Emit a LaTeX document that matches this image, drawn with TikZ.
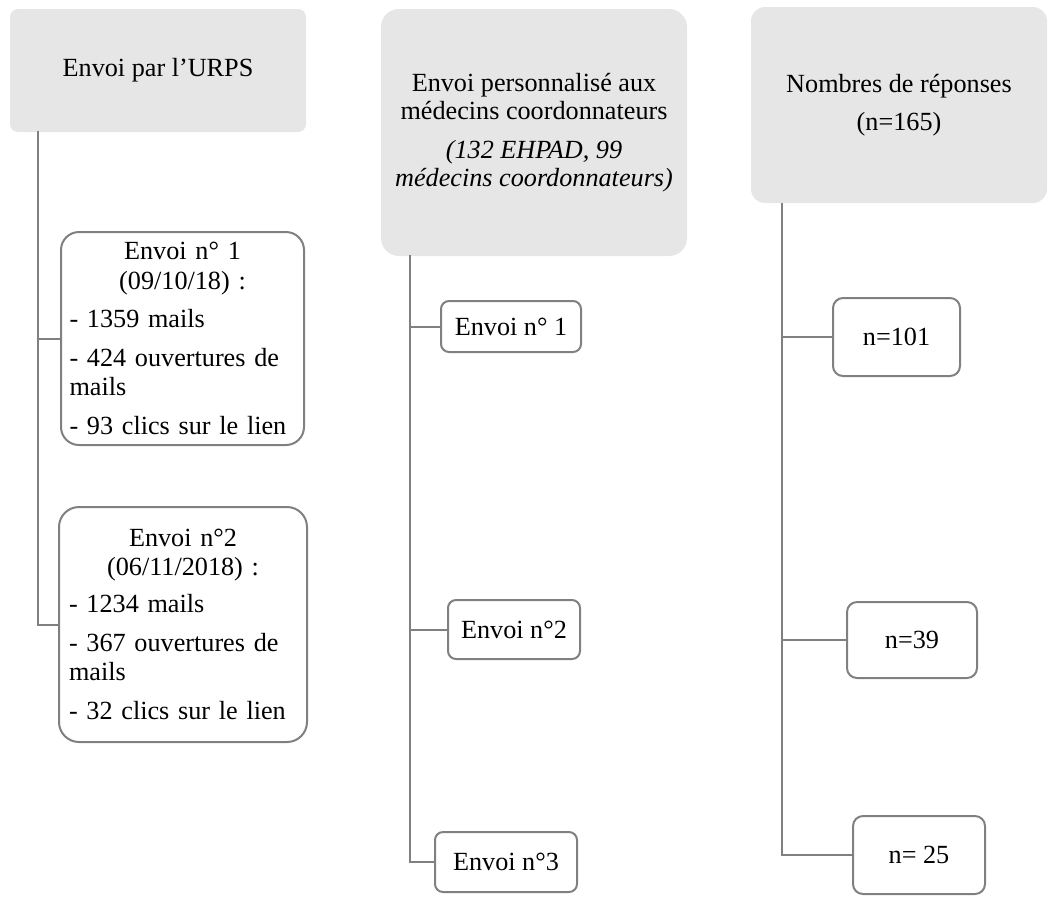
\documentclass[tikz,border=0pt]{standalone}
\usepackage{fontspec}
\setmainfont{Liberation Serif}
\setlength{\parindent}{0pt}
\begin{document}
\begin{tikzpicture}[x=0.5pt, y=-0.5pt,
    every node/.style={font=\fontsize{13.1}{14.2}\selectfont},
    header/.style={fill=headColour, inner sep=0pt, align=center},
    leaf/.style={draw=lineColour, line width=1pt, fill=white, rounded corners=4pt, inner sep=0pt, align=center},
    link/.style={draw=lineColour, line width=1pt}]
    \definecolor{headColour}{HTML}{E6E6E6}
    \definecolor{lineColour}{HTML}{808080}

    \useasboundingbox (0,0) rectangle (1048,896);

    % Draw headers
    \node[header, rounded corners=4pt, minimum width=148pt, minimum height=61.5pt] (urps) at (158,70.5) {Envoi par l’URPS};
    \node[header, rounded corners=9pt, minimum width=153pt, minimum height=123.5pt] (perso) at (534,132.5)
        {Envoi personnalisé aux\\médecins coordonnateurs\\[5pt]\textit{(132 EHPAD, 99}\\\textit{médecins coordonnateurs)}};
    \node[header, rounded corners=7pt, minimum width=148pt, minimum height=98pt] (resp) at (899,105)
        {Nombres de réponses\\[4.5pt](n=165)};

    % URPS mailings
    \node[leaf, rounded corners=9pt, minimum width=121.5pt, minimum height=106.5pt, text width=113pt, align=left] (urpsA) at (182.5,338.5)
        {{\centering Envoi n° 1\\[1pt](09/10/18) :\par}\raggedright\vspace{4.5pt}- 1359 mails\\[5.5pt]- 424 ouvertures de\\mails\\[5.5pt]- 93 clics sur le lien};
    \node[leaf, rounded corners=10pt, minimum width=124pt, minimum height=117.5pt, text width=114pt, align=left] (urpsB) at (183,624.5)
        {{\centering Envoi n°2\\(06/11/2018) :\par}\raggedright\vspace{4.5pt}- 1234 mails\\[5.5pt]- 367 ouvertures de\\mails\\[5.5pt]- 32 clics sur le lien};

    % Personal mailings
    \node[leaf, minimum width=70pt, minimum height=25.5pt] (persoA) at (511,326.5) {Envoi n° 1};
    \node[leaf, minimum width=66pt, minimum height=29.5pt] (persoB) at (514,629.5) {Envoi n°2};
    \node[leaf, minimum width=71pt, minimum height=30pt] (persoC) at (506,862) {Envoi n°3};

    % Answers
    \node[leaf, rounded corners=5pt, minimum width=63.5pt, minimum height=39pt] (respA) at (896.5,337) {n=101};
    \node[leaf, rounded corners=5pt, minimum width=65pt, minimum height=38pt] (respB) at (912,640) {n=39};
    \node[leaf, rounded corners=5pt, minimum width=66pt, minimum height=39pt] (respC) at (919,855) {n= 25};

    % Draw spines
    \coordinate (urpsTop) at (38,131);
    \coordinate (persoTop) at (410,255);
    \coordinate (respTop) at (782,203);

    \draw[link] (urpsTop) |- (urpsB.west);
    \draw[link] (urpsTop |- urpsA.west) -- (urpsA.west);

    \draw[link] (persoTop) |- (persoC.west);
    \draw[link] (persoTop |- persoA.west) -- (persoA.west);
    \draw[link] (persoTop |- persoB.west) -- (persoB.west);

    \draw[link] (respTop) |- (respC.west);
    \draw[link] (respTop |- respA.west) -- (respA.west);
    \draw[link] (respTop |- respB.west) -- (respB.west);

\end{tikzpicture}
\end{document}
